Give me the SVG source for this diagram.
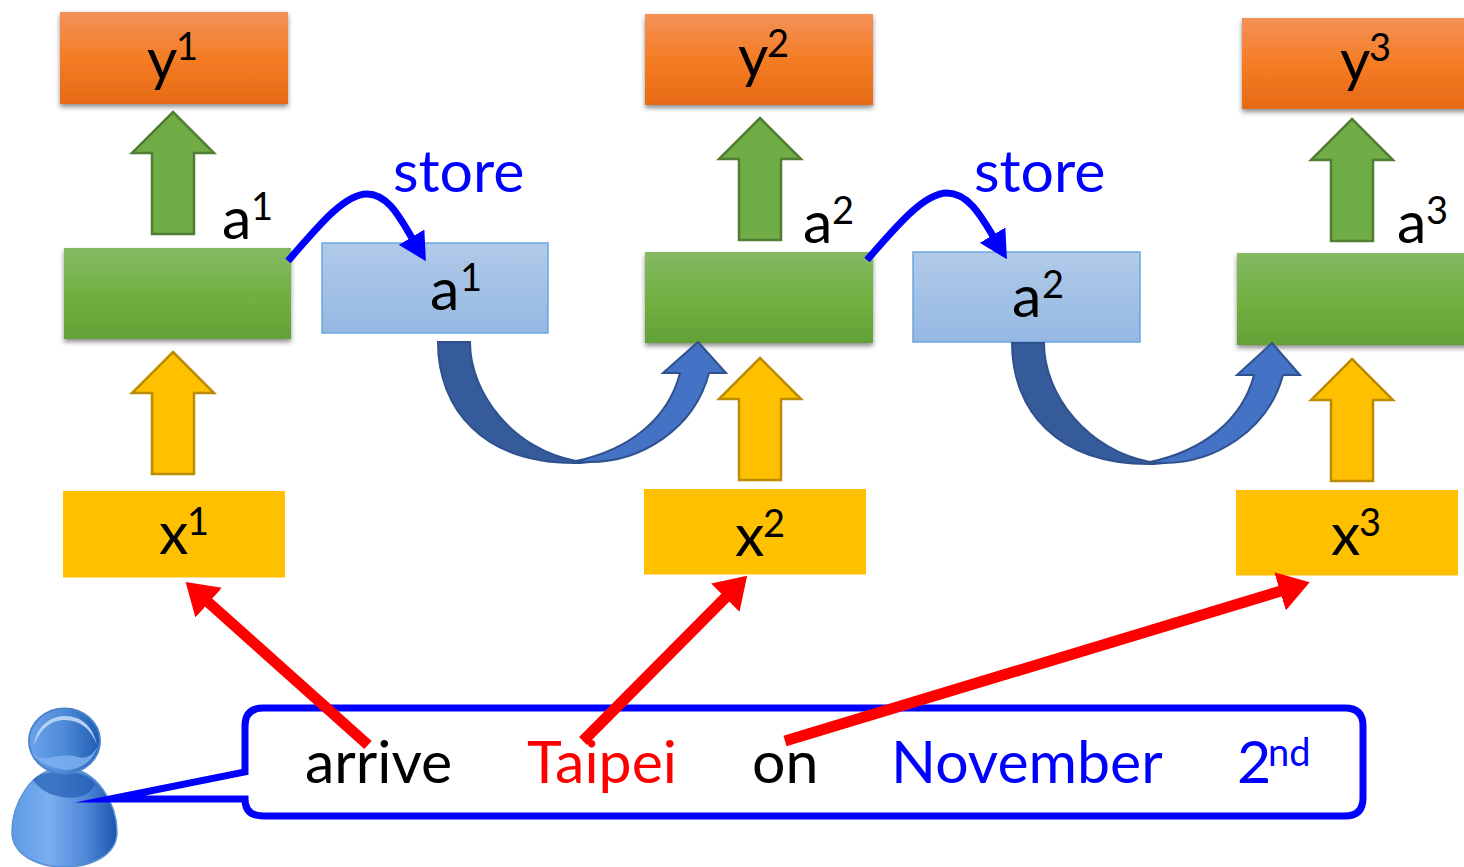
<svg xmlns="http://www.w3.org/2000/svg" width="1464" height="867" viewBox="0 0 1464 867">
<style>
text{font-family:"Lato","Open Sans","Liberation Sans",sans-serif;font-size:59px;fill:#000}
.s{font-size:38px}
.blue{fill:#0000ff}
.red{fill:#ff0000}
.or{fill:url(#gO);filter:url(#sh)}
.gr{fill:url(#gG);filter:url(#sh)}
.bl{fill:url(#gB);stroke:#6ea5e0;stroke-width:1.5}
.ye{fill:#ffc000}
.ag{fill:#70ad47;stroke:#507e32;stroke-width:2.500}
.ay{fill:#ffc000;stroke:#bc8c00;stroke-width:2.500}
.st{fill:none;stroke:#0000ff;stroke-width:7}
.re{fill:none;stroke:#ff0000;stroke-width:11;marker-end:url(#mR)}
.cd{fill:#355b9b;stroke:#2f528f;stroke-width:2}
.cl{fill:#4472c4;stroke:#2f528f;stroke-width:2}
</style>
<defs>
<linearGradient id="gO" x1="0" y1="0" x2="0" y2="1"><stop offset="0" stop-color="#f39158"/><stop offset=".5" stop-color="#f57c25"/><stop offset="1" stop-color="#e66a15"/></linearGradient>
<linearGradient id="gG" x1="0" y1="0" x2="0" y2="1"><stop offset="0" stop-color="#85b963"/><stop offset=".55" stop-color="#6fb03f"/><stop offset="1" stop-color="#62a136"/></linearGradient>
<linearGradient id="gB" x1="0" y1="0" x2="0" y2="1"><stop offset="0" stop-color="#b1cae9"/><stop offset="1" stop-color="#95b8e3"/></linearGradient>
<linearGradient id="pB" x1="0" y1="0" x2="1" y2="0"><stop offset="0" stop-color="#5d9ae6"/><stop offset=".35" stop-color="#7aaeef"/><stop offset=".7" stop-color="#4f88d8"/><stop offset="1" stop-color="#1d55ad"/></linearGradient>
<linearGradient id="pH" x1="0" y1="0" x2="1" y2="0"><stop offset="0" stop-color="#6aa3ea"/><stop offset=".5" stop-color="#4f8ad8"/><stop offset="1" stop-color="#1f5cb2"/></linearGradient>
<filter id="sh" x="-5%" y="-10%" width="110%" height="125%"><feDropShadow dx="0" dy="3" stdDeviation="2.500" flood-color="#000" flood-opacity=".45"/></filter>
<marker id="mR" markerUnits="userSpaceOnUse" markerWidth="31" markerHeight="40" viewBox="0 0 31 40" refX="1" refY="20" orient="auto"><path d="M0 0L31 20L0 40Z" fill="#ff0000"/></marker>
<marker id="mB" markerUnits="userSpaceOnUse" markerWidth="28" markerHeight="30" viewBox="0 0 28 30" refX="1" refY="15" orient="auto"><path d="M0 0L28 15L0 30Z" fill="#0000ff"/></marker>
</defs>

<g id="person">
<path d="M64 768C30 768 12 805 12 832C12 856 40 867 64 867C90 867 117 856 117 832C117 805 98 768 64 768Z" fill="url(#pB)" stroke="#5b8fd2" stroke-width="1.500"/>
<path d="M33 780C42 768 90 768 95 785C86 800 70 798 62 797C50 795 40 790 33 780Z" fill="#1c57ad" opacity=".65"/>
<ellipse cx="64.500" cy="741" rx="35.500" ry="32.500" fill="url(#pH)" stroke="#4a84d0" stroke-width="2"/>
<path d="M31 752C36 760 48 768 65 770C82 770 94 760 98 746C92 757 85 759 78 757C68 754 60 756 52 757C42 760 36 757 31 752Z" fill="#7db0f0" opacity=".85"/>
<path d="M34 745C36 727 50 716 65 716C82 716 93 727 97 745C91 729 80 720 65 720C50 720 40 730 34 745Z" fill="#b4d2f5"/>
</g>

<g id="bubble"><path d="M263 708H1345Q1363 708 1363 726V798Q1363 816 1345 816H263Q245 816 245 799L110 799L245 772V726Q245 708 263 708Z" fill="#fff" stroke="#0000ff" stroke-width="7" stroke-miterlimit="20"/>
<text x="305" y="783">arrive</text>
<text x="527" y="783" class="red">Taipei</text>
<text x="752" y="783">on</text>
<text x="891" y="783" class="blue">November</text>
<text x="1237" y="783" class="blue">2<tspan class="s" x="1268" y="766">nd</tspan></text>
</g>

<g id="y1"><rect class="or" x="60" y="12" width="228" height="92"/><text x="147" y="80">y<tspan class="s" x="176" y="60">1</tspan></text></g>
<g id="y2"><rect class="or" x="645" y="14" width="228" height="91"/><text x="738" y="77">y<tspan class="s" x="767" y="57">2</tspan></text></g>
<g id="y3"><rect class="or" x="1242" y="18" width="228" height="91"/><text x="1340" y="81">y<tspan class="s" x="1369" y="61">3</tspan></text></g>

<g id="h1"><rect class="gr" x="64" y="248" width="227" height="91"/><text x="222" y="239">a<tspan class="s" x="251" y="220">1</tspan></text></g>
<g id="h2"><rect class="gr" x="645" y="252" width="228" height="91"/><text x="803" y="243">a<tspan class="s" x="832" y="224">2</tspan></text></g>
<g id="h3"><rect class="gr" x="1237" y="253" width="233" height="92"/><text x="1397" y="243">a<tspan class="s" x="1426" y="224">3</tspan></text></g>

<g id="m1"><rect class="bl" x="322" y="243" width="226" height="90"/><text x="430" y="310">a<tspan class="s" x="460" y="291">1</tspan></text></g>
<g id="m2"><rect class="bl" x="913" y="252" width="227" height="90"/><text x="1012" y="317">a<tspan class="s" x="1042" y="298">2</tspan></text></g>

<g id="x1"><rect class="ye" x="63" y="491" width="222" height="86.500"/><text x="159" y="554">x<tspan class="s" x="187" y="535">1</tspan></text></g>
<g id="x2"><rect class="ye" x="644" y="489" width="222" height="85.500"/><text x="735" y="556">x<tspan class="s" x="763" y="537">2</tspan></text></g>
<g id="x3"><rect class="ye" x="1236" y="490" width="222" height="85.500"/><text x="1331" y="555">x<tspan class="s" x="1359" y="536">3</tspan></text></g>

<g id="connectors">
<path class="ag" d="M173 112L214 153H194V234H152V153H132Z"/>
<path class="ag" d="M760 118L801 159H781V240H739V159H719Z"/>
<path class="ag" d="M1352 119L1393 160H1373V241H1331V160H1311Z"/>
<path class="ay" d="M173 352L214 393H194V474H152V393H132Z"/>
<path class="ay" d="M760 358L801 399H781V480H739V399H719Z"/>
<path class="ay" d="M1352 359L1393 400H1373V481H1331V400H1311Z"/>

<path class="st" d="M288 261C320 224 345 194 367 194C388 194 400 218 412 238" marker-end="url(#mB)"/>
<path class="st" d="M867 260C899 223 925 193 947 193C968 193 981 216 993 236" marker-end="url(#mB)"/>

<g id="curve1">
<path class="cl" d="M576 461C628 450 668 420 680 373H663L698 342L726 373H709C694 430 640 462 590 462C585 462 580 462 576 461Z"/>
<path class="cd" d="M438 342H470C470 395 515 450 576 461C585 462 590 462 590 462L580 463C482 465 438 408 438 342Z"/>
</g>
<g id="curve2">
<path class="cl" d="M1150 462C1202 451 1242 421 1254 375H1237L1272 343L1300 375H1283C1268 431 1214 463 1164 463C1159 463 1154 463 1150 462Z"/>
<path class="cd" d="M1012 343H1044C1044 396 1089 451 1150 462C1159 463 1164 463 1164 463L1154 464C1056 466 1012 409 1012 343Z"/>
</g>

<path class="re" d="M368 745L208 602"/>
<path class="re" d="M583 741L726 597"/>
<path class="re" d="M785 741L1281 591"/>
</g>

<text x="393" y="192" class="blue">store</text>
<text x="974" y="192" class="blue">store</text>
</svg>
